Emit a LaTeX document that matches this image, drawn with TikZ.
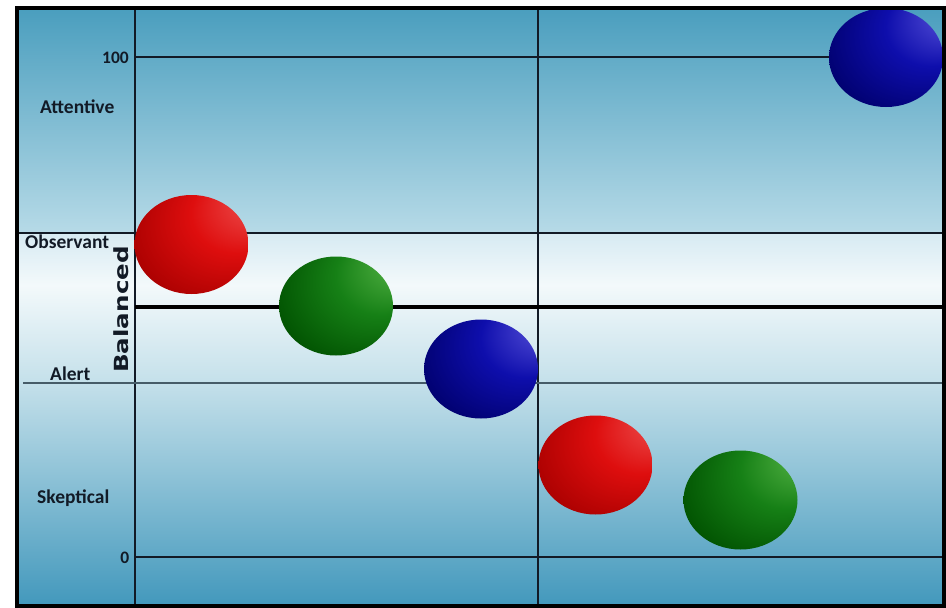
\documentclass[tikz,border=0pt]{standalone}
\usepackage{fontspec}
\setmainfont{Carlito}
\newfontfamily\balfont{DejaVu Sans Bold}
\usetikzlibrary{shapes.geometric}
\definecolor{bgtop}{RGB}{74,158,190}
\definecolor{bgA}{RGB}{182,218,231}
\definecolor{bgB}{RGB}{214,234,242}
\definecolor{bgmid}{RGB}{243,249,251}
\definecolor{bgC}{RGB}{196,224,234}
\definecolor{bgbot}{RGB}{66,152,188}
\definecolor{ink}{RGB}{18,26,38}
\definecolor{gridgrey}{RGB}{70,92,104}
\definecolor{rhl}{RGB}{246,120,120}\definecolor{rmain}{RGB}{222,14,14}\definecolor{rdark}{RGB}{168,0,0}\definecolor{rdeep}{RGB}{100,0,0}
\definecolor{ghl}{RGB}{125,212,100}\definecolor{gmain}{RGB}{22,128,22}\definecolor{gdark}{RGB}{0,80,0}\definecolor{gdeep}{RGB}{0,38,0}
\definecolor{bhl}{RGB}{135,125,246}\definecolor{bmain}{RGB}{14,14,172}\definecolor{bdark}{RGB}{0,0,108}\definecolor{bdeep}{RGB}{0,0,42}
\pgfdeclareradialshading{redball}{\pgfpoint{33bp}{26bp}}{color(0bp)=(rhl); color(9bp)=(rhl!40!rmain); color(20bp)=(rmain); color(38bp)=(rdark); color(50bp)=(rdeep)}
\pgfdeclareradialshading{greenball}{\pgfpoint{33bp}{26bp}}{color(0bp)=(ghl); color(9bp)=(ghl!40!gmain); color(20bp)=(gmain); color(38bp)=(gdark); color(50bp)=(gdeep)}
\pgfdeclareradialshading{blueball}{\pgfpoint{33bp}{26bp}}{color(0bp)=(bhl); color(9bp)=(bhl!40!bmain); color(20bp)=(bmain); color(38bp)=(bdark); color(50bp)=(bdeep)}
\tikzset{
  ballnode/.style={ellipse, inner sep=0pt, minimum width=114pt, minimum height=99pt},
  gridline/.style={draw=ink, line width=1.8pt},
  lbl/.style={font=\bfseries\fontsize{19.5}{20}\selectfont, text=ink, inner sep=0pt},
  numlbl/.style={font=\bfseries\fontsize{17.5}{18}\selectfont, text=ink, inner sep=0pt},
}
\begin{document}
\begin{tikzpicture}[x=1pt,y=-1pt]
\useasboundingbox (0,0) rectangle (946,608);
\fill[white] (0,0) rectangle (946,608);
% background gradient bands
\shade[top color=bgtop, bottom color=bgA] (17,8) rectangle (944,232);
\shade[top color=bgB, bottom color=bgmid] (17,232) rectangle (944,285);
\shade[top color=bgmid, bottom color=bgC] (17,285) rectangle (944,383);
\shade[top color=bgC, bottom color=bgbot] (17,383) rectangle (944,606);
% coordinates
\coordinate (tl) at (17,8); \coordinate (br) at (944,606);
\coordinate (v1t) at (135,8); \coordinate (v1b) at (135,606);
\coordinate (v2t) at (538,8); \coordinate (v2b) at (538,606);
\coordinate (h100a) at (135,57); \coordinate (h100b) at (944,57);
\coordinate (hoba) at (17,232.5); \coordinate (hobb) at (944,232.5);
\coordinate (hbala) at (135,307); \coordinate (hbalb) at (944,307);
\coordinate (hala) at (23,383); \coordinate (halb) at (944,383);
\coordinate (h0a) at (135,557); \coordinate (h0b) at (944,557);
% grid lines
\draw[gridline] (v1t) -- (v1b);
\draw[gridline, line width=2.2pt] (v2t) -- (v2b);
\draw[gridline, line width=1.5pt] (h100a) -- (h100b);
\draw[gridline, line width=2pt] (hoba) -- (hobb);
\draw[gridline, draw=black, line width=3.2pt] (hbala) -- (hbalb);
\draw[gridline, draw=gridgrey, line width=2pt] (hala) -- (halb);
\draw[gridline, line width=1.5pt] (h0a) -- (h0b);
% labels
\node[numlbl, anchor=east] (l100) at (129,57.5) {100};
\node[lbl, anchor=base west] (latt) at (40,113) {Attentive};
\node[lbl, anchor=base west] (lobs) at (25,248) {Observant};
\node[lbl, anchor=base west] (lale) at (50,380) {Alert};
\node[lbl, anchor=base west] (lske) at (37,503) {Skeptical};
\node[numlbl, anchor=east] (l0) at (129.5,557.5) {0};
\node[font=\balfont\fontsize{19.5}{20}\selectfont, text=ink, inner sep=0pt, rotate=90, anchor=base] (lbal) at (128.5,309.5) {\scalebox{1.26}[1]{Balanced}};
% balls
\node[ballnode, shading=redball] (r1) at (191.5,244.5) {};
\node[ballnode, shading=greenball] (g1) at (336,306) {};
\node[ballnode, shading=blueball] (b1) at (481,369) {};
\node[ballnode, shading=redball] (r2) at (595.5,465) {};
\node[ballnode, shading=greenball] (g2) at (740.5,500) {};
\node[ballnode, shading=blueball] (b2) at (886,57.5) {};
% frame
\draw[black, line width=4.5pt] (tl) rectangle (br);
\end{tikzpicture}
\end{document}
